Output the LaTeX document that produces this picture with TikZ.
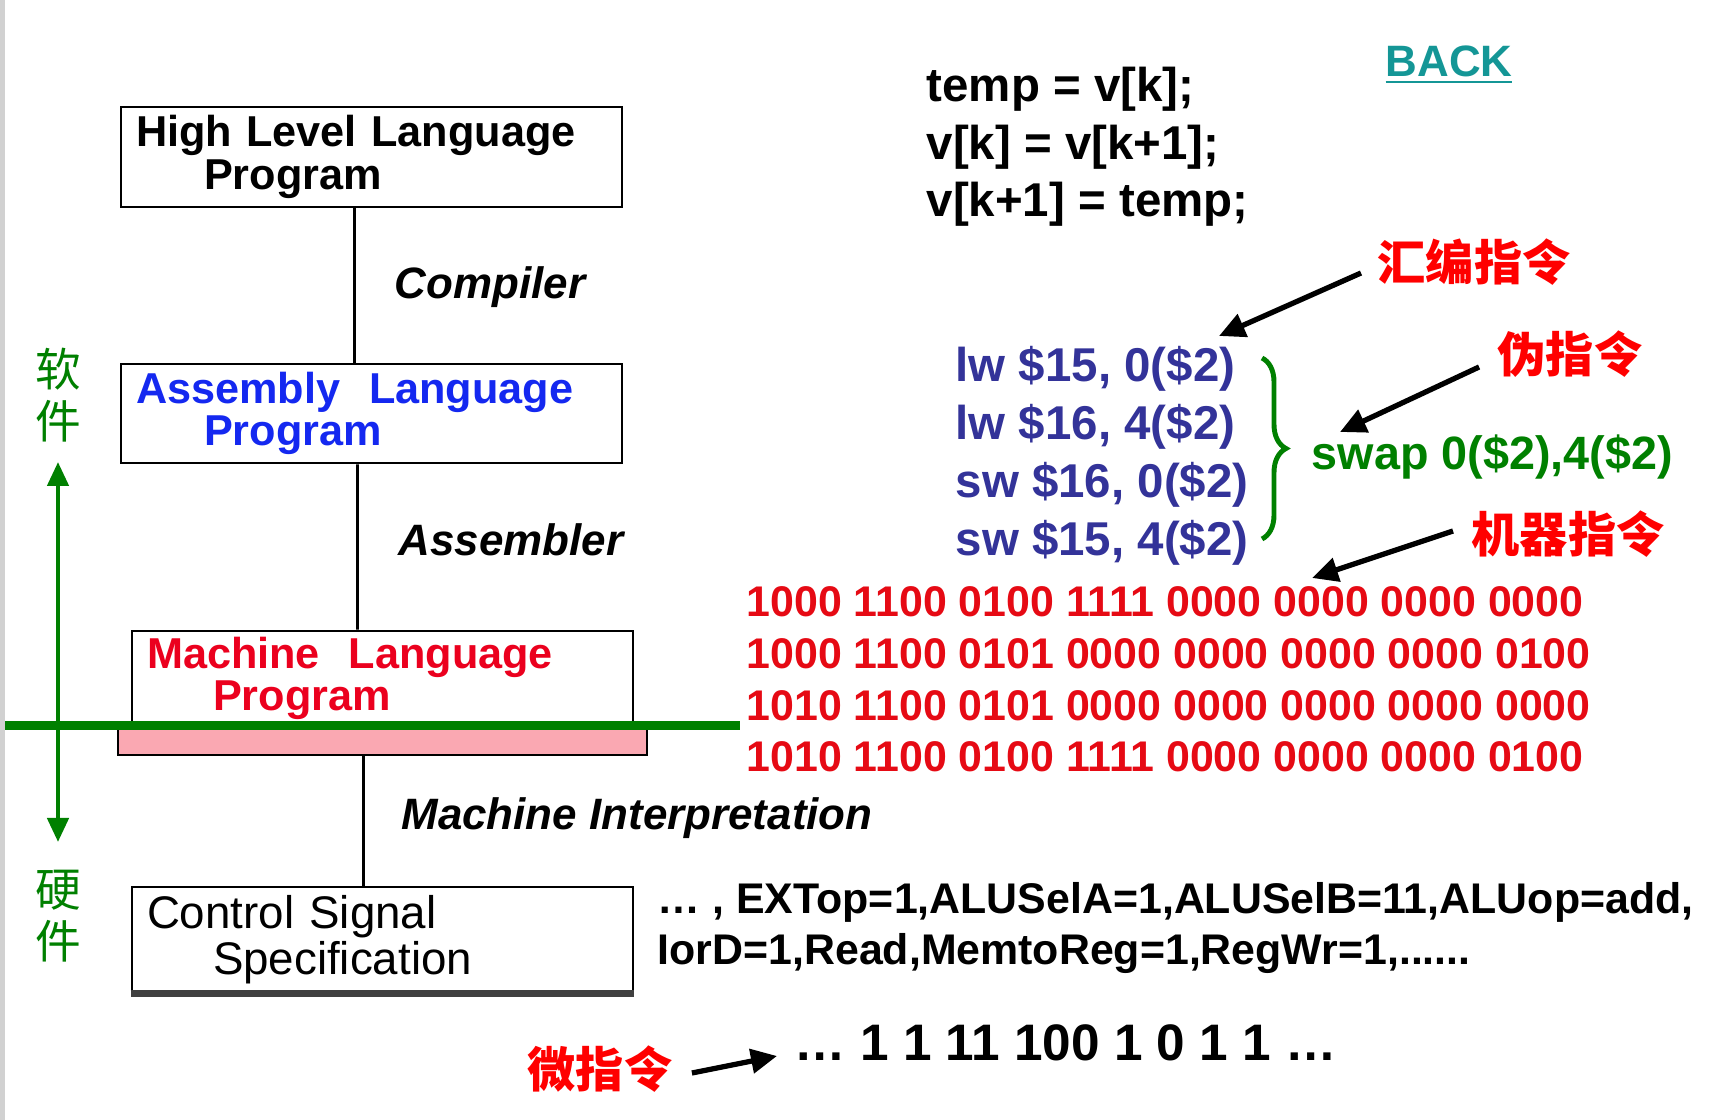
\documentclass[tikz,border=0pt]{standalone}
\usepackage{fontspec}
\setmainfont{Liberation Sans}
\newfontfamily\cjk{Noto Sans CJK SC}
\usepackage{xcolor}
\usetikzlibrary{positioning,arrows.meta,decorations.pathreplacing,calc}

\definecolor{asmblue}{RGB}{51,51,153}
\definecolor{boxblue}{RGB}{20,40,240}
\definecolor{boxred}{RGB}{235,0,30}
\definecolor{binred}{RGB}{230,10,20}
\definecolor{lblred}{RGB}{255,0,0}
\definecolor{swgreen}{RGB}{0,128,0}
\definecolor{backteal}{RGB}{20,150,150}
\definecolor{barpink}{RGB}{250,168,178}

\begin{document}
\begin{tikzpicture}[
  x=0.1mm, y=-0.1mm,
  >={Triangle[length=2.6mm,width=2.4mm]},
  lvbox/.style ={rectangle, draw=black, line width=0.8pt, fill=white, align=left,
                 minimum width=50.1mm, text width=47.1mm, inner xsep=1.5mm, inner ysep=0.5mm,
                 font=\fontsize{12.3}{12}\selectfont\bfseries},
  tool/.style  ={inner sep=0pt, font=\fontsize{12.5}{15}\selectfont\bfseries\itshape},
  code/.style  ={inner sep=0pt, align=left, font=\fontsize{13.5}{16.4}\selectfont\bfseries},
  hanzi/.style ={inner sep=0pt, text=lblred, font=\cjk\fontsize{13.7}{16}\selectfont\bfseries},
  side/.style  ={inner sep=0pt, text=swgreen, align=center, font=\cjk\fontsize{13}{14.8}\selectfont},
  link/.style  ={draw=black, line width=0.8pt},
  ptr/.style   ={->, draw=black, line width=1.5pt},
  brc/.style   ={decorate, decoration={brace, amplitude=2.4mm}, draw=swgreen, line width=1.4pt},
]

% ---------- canvas ----------
\fill[white] (0,0) rectangle (1725,1120);
\useasboundingbox (0,0) rectangle (1725,1120);
\fill[black!18] (0,0) rectangle (5,1120);

% ---------- LEVELS (left) ----------
\node[lvbox, minimum height=10mm] (hll) at (371.5,157)
  {High Level Language\\\hspace*{6.8mm}Program};
\node[lvbox, minimum height=9.9mm, text=boxblue] (alp) at (371.5,413.5)
  {Assembly\ \ Language\\\hspace*{6.8mm}Program};
\node[lvbox, minimum height=9.5mm, text=boxred] (mlp) at (382.5,678.5)
  {Machine\ \ Language\\\hspace*{6.6mm}Program};
\node[draw=black, line width=0.8pt, fill=barpink, minimum width=52.9mm,
      minimum height=2.9mm, inner sep=0pt] (mbar) at (382.5,740.5) {};
\node[lvbox, minimum height=10.5mm, font=\fontsize{13}{13}\selectfont] (css) at (382.5,939.5)
  {Control Signal\\\hspace*{6.6mm}Specification};
\draw[line width=2pt, black!75] (css.south west) -- (css.south east);

\draw[link] ([xshift=-1.7mm]hll.south) -- ([xshift=-1.7mm]alp.north);
\draw[link] ([xshift=-1.4mm]alp.south) -- ([xshift=-2.5mm]mlp.north);
\draw[link] ([xshift=-1.9mm]mbar.south) -- ([xshift=-1.9mm]css.north);

\node[tool] (cmp)  at (490,287) {Compiler};
\node[tool] (asmb) at (511,540) {Assembler};
\node[tool] (mint) at (637,818) {Machine Interpretation};

% ---------- software / hardware ----------
\node[side] (soft) at (58,395) {软\\件};
\node[side] (hard) at (58,916) {硬\\件};
\coordinate (swtop) at (58,462);
\coordinate (hwbot) at (58,842);
\draw[<->, swgreen, line width=1.3pt, >={Triangle[length=2.4mm,width=2.1mm]}] (swtop) -- (hwbot);
\draw[swgreen, line width=0.9mm] (5,726) -- (740,726);

% ---------- source / assembly (right) ----------
\node[inner sep=0pt, text=backteal, font=\fontsize{12.5}{15}\selectfont\bfseries] (back) at (1449,65) {\underline{BACK}};
\node[code, anchor=west] (src) at (926,147) {temp = v[k];\\v[k] = v[k+1];\\v[k+1] = temp;};

\node[code, anchor=west, text=asmblue, font=\fontsize{13.5}{16.5}\selectfont\bfseries] (asm) at (955,456)
  {lw \$15, 0(\$2)\\lw \$16, 4(\$2)\\sw \$16, 0(\$2)\\sw \$15, 4(\$2)};
\coordinate (brtop) at (1262,358);
\coordinate (brbot) at (1262,539);
\draw[brc] (brtop) -- (brbot);
\node[code, anchor=west, text=swgreen, font=\fontsize{13.3}{16}\selectfont\bfseries] (swap) at (1311,457) {swap 0(\$2),4(\$2)};

\node[code, anchor=west, text=binred, font=\fontsize{12.2}{14.7}\selectfont\bfseries] (bin) at (746,679.5)
  {1000 1100 0100 1111 0000 0000 0000 0000\\
   1000 1100 0101 0000 0000 0000 0000 0100\\
   1010 1100 0101 0000 0000 0000 0000 0000\\
   1010 1100 0100 1111 0000 0000 0000 0100};

\node[code, anchor=west, font=\fontsize{12.2}{14.3}\selectfont\bfseries] (ctrl) at (657,928)
  {… , EXTop=1,ALUSelA=1,ALUSelB=11,ALUop=add,\\IorD=1,Read,MemtoReg=1,RegWr=1,......};
\node[code, anchor=west, font=\fontsize{14.6}{16}\selectfont\bfseries] (micro) at (794,1043)
  {… 1 1 11 100 1 0 1 1 …};

% ---------- instruction labels ----------
\node[hanzi] (asmlbl) at (1474,262) {汇编指令};
\node[hanzi] (pselbl) at (1570,354) {伪指令};
\node[hanzi] (maclbl) at (1568,534) {机器指令};
\node[hanzi] (miclbl) at (600,1069) {微指令};

\coordinate (asmtip) at (1219,336);
\coordinate (psetip) at (1340,432);
\coordinate (mactip) at (1312,578);
\coordinate (mictip) at (777,1056);
\draw[ptr] ([shift={(-1.6mm,-1.1mm)}]asmlbl.west) -- (asmtip);
\draw[ptr] ([shift={(-1.8mm,-1.3mm)}]pselbl.west) -- (psetip);
\draw[ptr] ([shift={(-1.8mm,0.3mm)}]maclbl.west) -- (mactip);
\draw[ptr] ([shift={(1.9mm,-0.4mm)}]miclbl.east) -- (mictip);

\end{tikzpicture}
\end{document}
